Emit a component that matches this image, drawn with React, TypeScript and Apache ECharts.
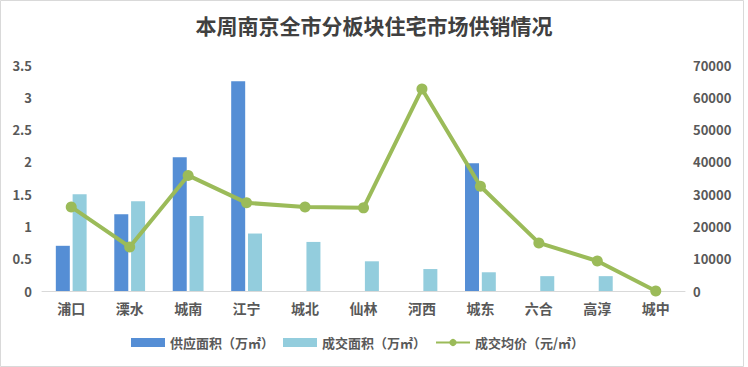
import React, { useEffect, useRef } from "react";
import * as echarts from "echarts";

const categories = ["浦口", "溧水", "城南", "江宁", "城北", "仙林", "河西", "城东", "六合", "高淳", "城中"];
const supplyArea = [0.7, 1.19, 2.07, 3.25, 0, 0, 0, 1.98, 0, 0, 0];
const saleArea = [1.5, 1.39, 1.16, 0.89, 0.76, 0.46, 0.34, 0.29, 0.23, 0.23, 0];
const avgPrice = [26050, 13650, 35800, 27300, 26050, 25750, 62550, 32450, 14900, 9300, 0];
const leftTicks = ["0", "0.5", "1", "1.5", "2", "2.5", "3", "3.5"];

const FONT = "'Noto Sans CJK SC', 'Noto Sans', sans-serif";
const TEXT = "#595959";

export default function App() {
  const ref = useRef<HTMLDivElement>(null);
  useEffect(() => {
    const chart = echarts.init(ref.current!, undefined, { renderer: "svg" });
    chart.setOption({
      animation: false,
      backgroundColor: "#fff",
      textStyle: { fontFamily: FONT },
      title: {
        text: "本周南京全市分板块住宅市场供销情况",
        left: "center",
        top: 9,
        textStyle: { fontFamily: FONT, fontSize: 21, fontWeight: "bold", color: "#404040" },
      },
      legend: {
        bottom: 13,
        left: 126,
        itemGap: 9,
        itemWidth: 34,
        itemHeight: 9,
        textStyle: { fontFamily: FONT, fontSize: 13, fontWeight: "bold", color: TEXT },
        data: [
          { name: "供应面积（万㎡）", icon: "rect" },
          { name: "成交面积（万㎡）", icon: "rect" },
          { name: "成交均价（元/㎡）" },
        ],
      },
      grid: { left: 42, right: 63, top: 65, bottom: 76 },
      xAxis: {
        type: "category",
        data: categories,
        axisTick: { show: false },
        axisLine: { lineStyle: { color: "#D9D9D9", width: 1 } },
        axisLabel: { fontFamily: FONT, fontSize: 14, fontWeight: "bold", color: TEXT, margin: 10 },
      },
      yAxis: [
        {
          type: "value",
          min: 0,
          max: 3.5,
          interval: 0.5,
          splitLine: { show: false },
          axisLine: { show: false },
          axisTick: { show: false },
          axisLabel: {
            fontFamily: FONT,
            fontSize: 13,
            fontWeight: "bold",
            color: TEXT,
            margin: 10,
            formatter: (v: number) => leftTicks[Math.round(v / 0.5)] ?? String(v),
          },
        },
        {
          type: "value",
          min: 0,
          max: 70000,
          interval: 10000,
          splitLine: { show: false },
          axisLine: { show: false },
          axisTick: { show: false },
          axisLabel: {
            fontFamily: FONT,
            fontSize: 13,
            fontWeight: "bold",
            color: TEXT,
            margin: 8,
            formatter: (v: number) => String(v),
          },
        },
      ],
      series: [
        {
          name: "供应面积（万㎡）",
          type: "bar",
          data: supplyArea,
          barWidth: 14,
          barGap: "20%",
          itemStyle: { color: "#558ED5" },
        },
        {
          name: "成交面积（万㎡）",
          type: "bar",
          data: saleArea,
          barWidth: 14,
          barGap: "20%",
          itemStyle: { color: "#93CDDD" },
        },
        {
          name: "成交均价（元/㎡）",
          type: "line",
          yAxisIndex: 1,
          data: avgPrice,
          symbol: "circle",
          symbolSize: 11,
          lineStyle: { color: "#9BBB59", width: 4 },
          itemStyle: { color: "#9BBB59" },
        },
      ],
      graphic: [
        {
          type: "rect",
          shape: { x: 0.5, y: 0.5, width: 743, height: 366 },
          style: { fill: "none", stroke: "#D9D9D9", lineWidth: 1 },
          silent: true,
        },
      ],
    });
    return () => chart.dispose();
  }, []);
  return (
    <div
      ref={ref}
      style={{ position: "fixed", left: 0, top: 0, width: 748, height: 367 }}
    />
  );
}
